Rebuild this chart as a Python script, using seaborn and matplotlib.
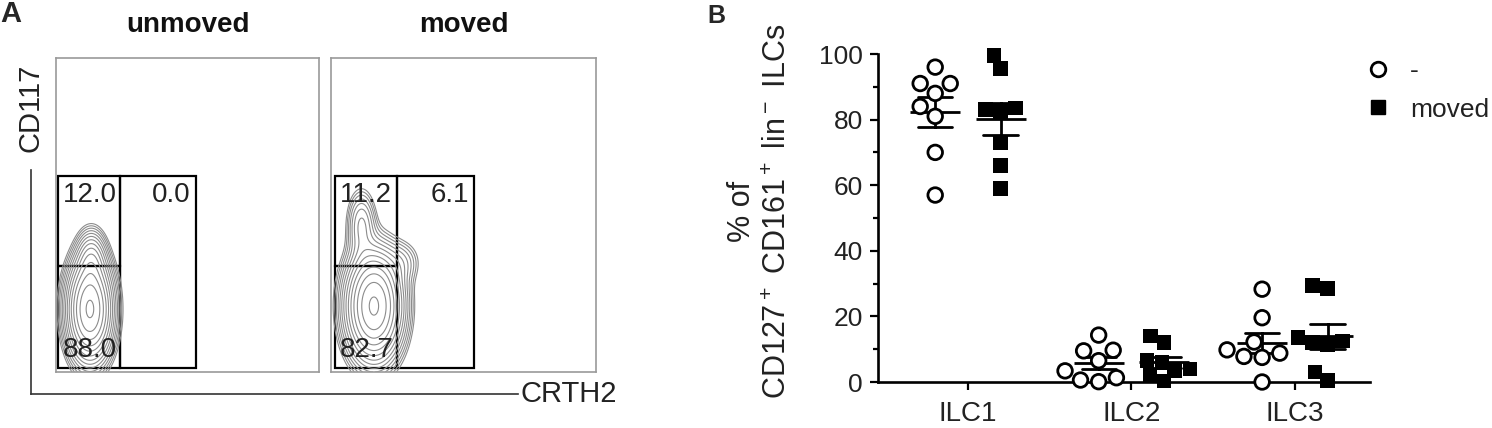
import numpy as np
import pandas as pd
import matplotlib
matplotlib.use("Agg")
import matplotlib.pyplot as plt
from matplotlib.lines import Line2D
from matplotlib.patches import Rectangle
import seaborn as sns

# ---------------- data ----------------
cells = ["ILC1", "ILC2", "ILC3"]
conditions = ["-", "moved"]
unmoved_ilc1 = [96, 91, 91, 88, 84, 81, 70, 57]
moved_ilc1 = [99.5, 95.5, 83.5, 83, 82.5, 73, 66, 59]
unmoved_ilc2 = [14.3, 9.7, 9.5, 6.5, 3.4, 1.3, 0.6, 0.1]
moved_ilc2 = [14, 12, 6.5, 6, 4, 3.5, 2, 0.3]
unmoved_ilc3 = [28.3, 19.6, 12.2, 9.8, 8.8, 7.8, 7.5, 0]
moved_ilc3 = [29.5, 28.5, 13.5, 12.5, 12, 11.5, 3, 0.5]

yticks = [0, 20, 40, 60, 80, 100]

# panel A: flow plot annotations
flow_titles = ["unmoved", "moved"]
gate_upper_left = ["12.0", "11.2"]
gate_upper_right = ["0.0", "6.1"]
gate_lower_left = ["88.0", "82.7"]
# gates (axes fraction): x0, x_split, x1, y0, y_split, y1
gates = [
    (0.008, 0.243, 0.532, 0.013, 0.338, 0.624),
    (0.015, 0.249, 0.540, 0.013, 0.338, 0.624),
]
# density blobs for contour illustration: (mx, my, sx, sy, weight)
blobs = [
    [(0.129, 0.20, 0.045, 0.085, 1.0), (0.135, 0.36, 0.03, 0.05, 0.18)],
    [(0.162, 0.21, 0.055, 0.09, 1.0), (0.115, 0.47, 0.03, 0.06, 0.12),
     (0.27, 0.35, 0.04, 0.04, 0.05)],
]

# ---------------- style ----------------
sns.set_theme(style="ticks")
plt.rcParams["font.family"] = ["Liberation Sans", "DejaVu Sans"]
plt.rcParams["mathtext.fontset"] = "custom"
plt.rcParams["mathtext.rm"] = "Liberation Sans"
plt.rcParams["mathtext.default"] = "regular"

W, H = 1492, 428
fig = plt.figure(figsize=(W / 100, H / 100), dpi=100)


def fx(px):
    return px / W


def fy(py):
    return 1 - py / H


narrow = ["Liberation Sans Narrow", "Liberation Sans", "DejaVu Sans"]

# ---------------- panel A ----------------
boxes = [(56, 58, 319, 372), (331, 58, 596, 372)]
gx = np.linspace(0, 1, 300)
gy = np.linspace(0, 1, 300)
GX, GY = np.meshgrid(gx, gy)
for i, (l, t, r, b) in enumerate(boxes):
    axf = fig.add_axes([fx(l), fy(b), fx(r - l), (b - t) / H])
    axf.set_xlim(0, 1)
    axf.set_ylim(0, 1)
    axf.set_xticks([])
    axf.set_yticks([])
    for s in axf.spines.values():
        s.set_color("#9a9a9a")
        s.set_linewidth(1.2)
    Z = np.zeros_like(GX)
    for mx, my, sx, sy, w in blobs[i]:
        Z += w * np.exp(-((GX - mx) ** 2 / (2 * sx ** 2) + (GY - my) ** 2 / (2 * sy ** 2)))
    levels = Z.max() * np.geomspace(0.02, 0.95, 14)
    axf.contour(GX, GY, Z, levels=levels, colors="#8c8c8c", linewidths=0.8)
    x0, xs, x1, y0, ys, y1 = gates[i]
    axf.add_patch(Rectangle((x0, y0), xs - x0, ys - y0, fill=False, ec="black", lw=1.6))
    axf.add_patch(Rectangle((x0, ys), xs - x0, y1 - ys, fill=False, ec="black", lw=1.6))
    axf.add_patch(Rectangle((xs, y0), x1 - xs, y1 - y0, fill=False, ec="black", lw=1.6))
    axf.text(x0 + 0.018, y1 - 0.02, gate_upper_left[i], ha="left", va="top",
             fontsize=20, family=narrow, color="#222222")
    axf.text(x1 - 0.02, y1 - 0.02, gate_upper_right[i], ha="right", va="top",
             fontsize=20, family=narrow, color="#222222")
    axf.text(x0 + 0.018, y0 + 0.015, gate_lower_left[i], ha="left", va="bottom",
             fontsize=20, family=narrow, color="#222222")
    axf.set_title(flow_titles[i], fontsize=20, fontweight="bold", pad=19, color="#111111")

# outer L-shaped axis
axL = fig.add_axes([fx(31), fy(394), fx(518 - 31), (394 - 170) / H])
axL.patch.set_alpha(0)
axL.set_xticks([])
axL.set_yticks([])
for s in ["top", "right"]:
    axL.spines[s].set_visible(False)
for s in ["left", "bottom"]:
    axL.spines[s].set_color("#333333")
    axL.spines[s].set_linewidth(1.2)
axL.set_zorder(-1)
fig.text(fx(31), fy(108), "CD117", rotation=90, ha="center", va="center",
         fontsize=21, family=narrow, color="#222222")
fig.text(fx(521), fy(394), "CRTH2", ha="left", va="center",
         fontsize=21, family=narrow, color="#222222")

fig.text(fx(0), fy(14), "A", fontsize=21, fontweight="bold", ha="left", va="center")
fig.text(fx(707), fy(16), "B", fontsize=18, fontweight="bold", ha="left", va="center")

# ---------------- panel B ----------------
rows = []
for cell, un, mv in zip(cells, [unmoved_ilc1, unmoved_ilc2, unmoved_ilc3],
                        [moved_ilc1, moved_ilc2, moved_ilc3]):
    rows += [(cell, "-", v) for v in un]
    rows += [(cell, "moved", v) for v in mv]
df = pd.DataFrame(rows, columns=["cell", "cond", "value"])

ymin, ymax = -3, 103
px_per_unit = (382 - 54) / 100.0
top_px = 382 - (ymax - 0) * px_per_unit
bot_px = 382 - (ymin - 0) * px_per_unit
ax = fig.add_axes([fx(878), fy(bot_px), fx(1370 - 878), (bot_px - top_px) / H])

sns.pointplot(data=df, x="cell", y="value", hue="cond", order=cells,
              hue_order=conditions, dodge=0.4, errorbar="se", capsize=0.21,
              markers="_", linestyle="none", palette=["black", "black"],
              markersize=36, markeredgewidth=2, err_kws={"linewidth": 2},
              legend=False, ax=ax)
sns.swarmplot(data=df[df.cond == "-"], x="cell", y="value", hue="cond",
              order=cells, hue_order=conditions, dodge=True, marker="o",
              palette={"-": "white", "moved": "black"}, edgecolor="black",
              linewidth=2, size=10.5, legend=False, ax=ax)
sns.swarmplot(data=df[df.cond == "moved"], x="cell", y="value", hue="cond",
              order=cells, hue_order=conditions, dodge=True, marker="s",
              palette={"-": "white", "moved": "black"}, linewidth=0,
              size=10.5, legend=False, ax=ax)

ax.set_xlim(-0.55, 2.46)
ax.set_ylim(ymin, ymax)
ax.set_yticks(yticks)
ax.set_yticks(range(10, 100, 20), minor=True)
ax.set_xlabel("")
ax.set_ylabel("% of\nCD127$^+$ CD161$^+$ lin$^-$ ILCs", fontsize=22,
              color="#222222", linespacing=1.25)
ax.yaxis.set_label_coords(-0.173, 0.52)
sns.despine(ax=ax)
ax.spines["bottom"].set_position(("data", 0))
ax.spines["left"].set_bounds(0, 100)
for s in ["left", "bottom"]:
    ax.spines[s].set_linewidth(1.9)
    ax.spines[s].set_color("black")
ax.tick_params(axis="y", which="major", length=6, width=1.6, labelsize=19,
               pad=5, colors="black", labelcolor="#222222")
ax.tick_params(axis="y", which="minor", length=3.8, width=1.6, colors="black")
ax.tick_params(axis="x", length=6, width=1.6, labelsize=20, pad=8,
               colors="black", labelcolor="#222222")

handles = [
    Line2D([], [], marker="o", linestyle="none", markerfacecolor="white",
           markeredgecolor="black", markeredgewidth=2, markersize=10.5),
    Line2D([], [], marker="s", linestyle="none", markerfacecolor="black",
           markeredgecolor="black", markersize=10),
]
fig.legend(handles, conditions, loc="upper left",
           bbox_to_anchor=(fx(1365), fy(59)), frameon=False, fontsize=19,
           handlelength=1.0, handletextpad=0.7, labelspacing=0.55,
           borderpad=0, borderaxespad=0, labelcolor="#222222")

fig.savefig("out.png", dpi=100)
